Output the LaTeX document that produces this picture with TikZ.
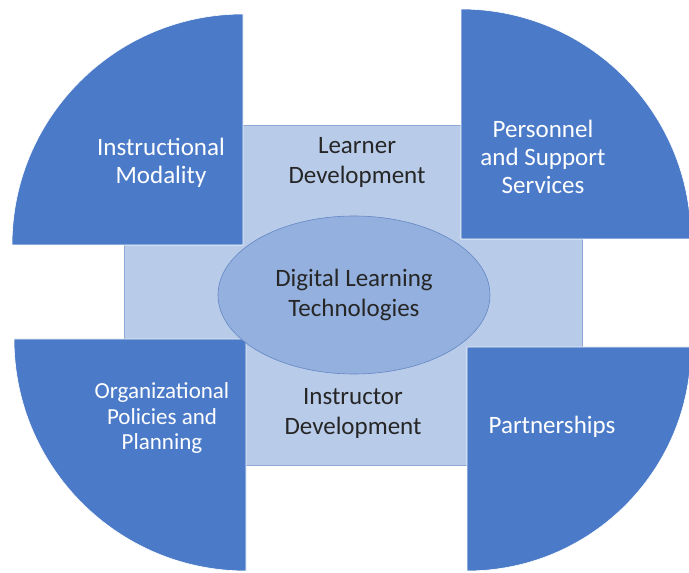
\documentclass[tikz,border=0pt]{standalone}
\usepackage{fontspec}
\setmainfont{Carlito}
\usepackage{tikz}
\usetikzlibrary{calc,positioning,shapes.geometric}

\definecolor{quartblue}{HTML}{4B7BC8}
\definecolor{panelblue}{HTML}{B8CBE9}
\definecolor{panelline}{HTML}{8EA9D6}
\definecolor{ovalblue}{HTML}{94B0DE}
\definecolor{ovalline}{HTML}{6487C4}

\begin{document}
\begin{tikzpicture}[x=1pt,y=1pt]
	\tikzstyle{quarter} = [fill=quartblue, draw=white, line width=0.6pt]
	\tikzstyle{outertext} = [align=center, text=white, font=\fontsize{25}{28}\selectfont]
	\tikzstyle{innertext} = [align=center, text=black!85, font=\fontsize{25}{30}\selectfont]
	
	\useasboundingbox (0,0) rectangle (689,573);
	
	% light panel behind
	\node [draw=panelline, fill=panelblue, line width=0.6pt, minimum width=458pt, minimum height=340pt, inner sep=0pt] (panel) at (353,278) {};
	
	% four quarter discs
	\coordinate (ctl) at (243,328);
	\coordinate (ctr) at (461,334);
	\coordinate (cbl) at (246,234);
	\coordinate (cbr) at (467,226);
	\draw [quarter] (ctl) -- ++(180:231) arc[start angle=180, end angle=90, radius=231] -- cycle;
	\draw [quarter] (ctr) -- ++(90:230) arc[start angle=90, end angle=0, radius=230] -- cycle;
	\draw [quarter] (cbl) -- ++(270:232) arc[start angle=270, end angle=180, radius=232] -- cycle;
	\draw [quarter] (cbr) -- ++(0:224) arc[start angle=0, end angle=-90, radius=224] -- cycle;
	
	% centre oval
	\node [ellipse, draw=ovalline, fill=ovalblue, line width=0.6pt, minimum width=272pt, minimum height=158pt, inner sep=0pt] (tech) at (354,278) {};
	\node [innertext] (techtext) at (tech.center) {Digital Learning\\Technologies};
	
	\node [innertext] (learner) at (357,411) {Learner\\Development};
	\node [innertext] (instructor) at (353,160) {Instructor\\Development};
	
	\node [outertext] (modality) at (161,410) {Instructional\\Modality};
	\node [outertext] (personnel) at (543,416) {Personnel\\and Support\\Services};
	\node [outertext, font=\fontsize{23}{25.5}\selectfont] (policies) at (162,155) {Organizational\\Policies and\\Planning};
	\node [outertext] (partners) at (552,146) {Partnerships};
	
\end{tikzpicture}
\end{document}
